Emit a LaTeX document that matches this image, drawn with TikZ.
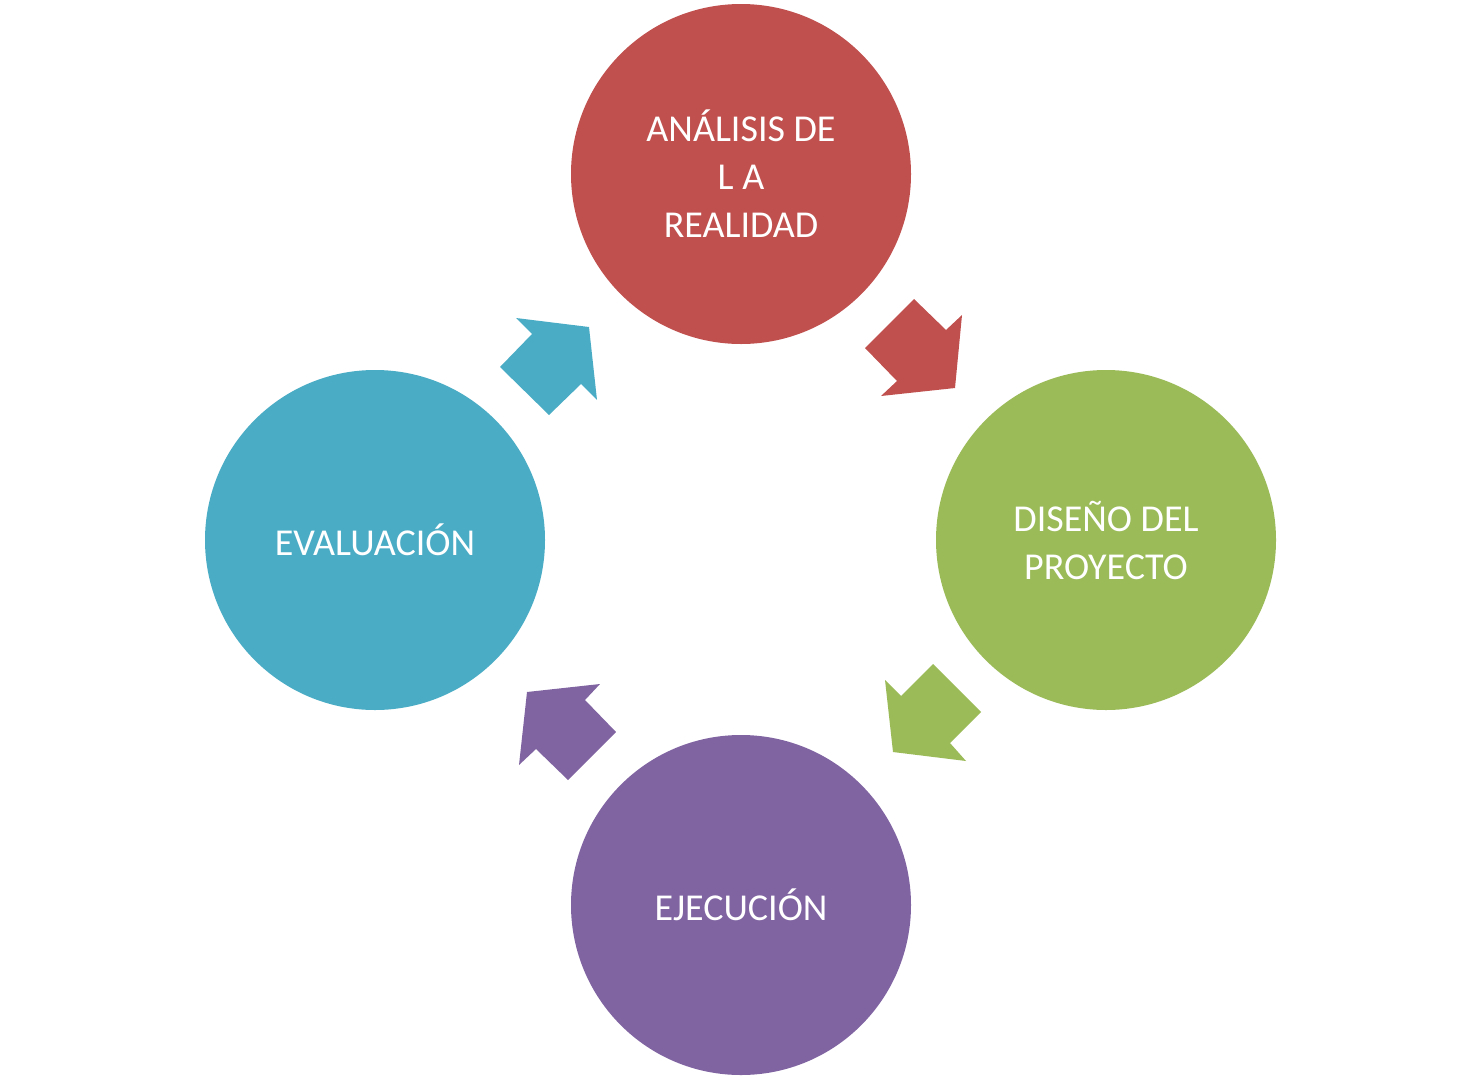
\documentclass[tikz,border=0pt]{standalone}
\usepackage{fontspec}
\setmainfont{Carlito}
\definecolor{cred}{HTML}{C0504D}
\definecolor{cgreen}{HTML}{9BBB59}
\definecolor{cpurple}{HTML}{8064A2}
\definecolor{cteal}{HTML}{4BACC6}
\begin{document}
\begin{tikzpicture}[x=1pt,y=-1pt,
  stage/.style={circle,minimum size=340pt,inner sep=0pt,text=white,align=center,font=\fontsize{38}{48}\selectfont}]
\useasboundingbox (0,0) rectangle (1482,1079);
\node[stage,fill=cred] (a) at (741,174) {ANÁLISIS DE\\L A\\REALIDAD};
\node[stage,fill=cgreen] (d) at (1106,540) {DISEÑO DEL\\PROYECTO};
\node[stage,fill=cpurple] (e) at (741,905) {EJECUCIÓN};
\node[stage,fill=cteal] (v) at (375,540) {EVALUACIÓN};
\fill[cred] (914,299)--(946,330)--(962,315)--(955,388)--(881,396)--(897,381)--(865,348)--cycle;
\fill[cgreen] (933,664)--(981,712)--(950,743)--(966,761)--(893,752)--(885,680)--(901,696)--cycle;
\fill[cpurple] (616,732)--(568,780)--(536,749)--(519,765)--(527,692)--(600,684)--(585,700)--cycle;
\fill[cteal] (500,367)--(549,415)--(581,384)--(597,400)--(589,327)--(516,318)--(532,334)--cycle;
\end{tikzpicture}
\end{document}
